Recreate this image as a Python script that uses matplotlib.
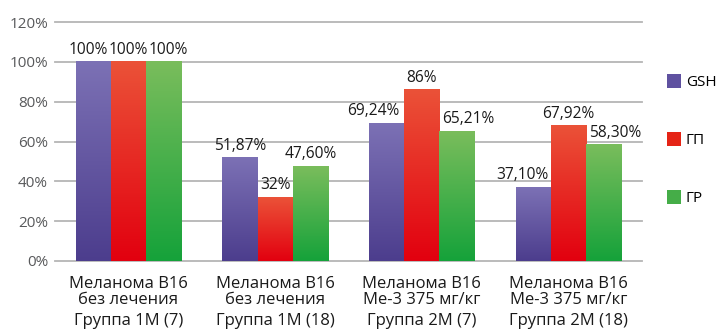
import numpy as np
import matplotlib
matplotlib.use("Agg")
import matplotlib.pyplot as plt
from matplotlib.colors import LinearSegmentedColormap
from matplotlib.patches import Patch

plt.rcParams['font.family'] = ['Open Sans', 'DejaVu Sans']

# ---- data ----
cat_line1 = ["Меланома В16", "Меланома В16", "Меланома В16", "Меланома В16"]
cat_line2 = ["без лечения", "без лечения", "Ме-3 375 мг/кг", "Ме-3 375 мг/кг"]
cat_line3 = ["Группа 1М (7)", "Группа 1М (18)", "Группа 2М (7)", "Группа 2М (18)"]
series_names = ["GSH", "ГП", "ГР"]
gsh = [100, 51.87, 69.24, 37.10]
gp = [100, 32, 86, 67.92]
gr = [100, 47.60, 65.21, 58.30]
gsh_labels = ["100%", "51,87%", "69,24%", "37,10%"]
gp_labels = ["100%", "32%", "86%", "67,92%"]
gr_labels = ["100%", "47,60%", "65,21%", "58,30%"]
yticks = [0, 20, 40, 60, 80, 100, 120]
ytick_labels = ["0%", "20%", "40%", "60%", "80%", "100%", "120%"]

# ---- style ----
grad_colors = [("#7c71b5", "#4c3d8d"), ("#eb5238", "#e2000f"), ("#7abd5c", "#15a23a")]
legend_colors = ["#5f51a0", "#e52416", "#45ad48"]
label_dx = [[-5, 0, -13, -11], [0, 0, 0, 0], [5, 0, 11, 11]]  # pixels

fig = plt.figure(figsize=(7.18, 3.34), dpi=100)
ax = fig.add_axes([55/718, 1-261/334, 587/718, 239/334])

x = np.arange(len(cat_line1))
w = 0.24
series = [gsh, gp, gr]
labels = [gsh_labels, gp_labels, gr_labels]
grad = np.linspace(1, 0, 256).reshape(-1, 1)

for si, (vals, labs) in enumerate(zip(series, labels)):
    bars = ax.bar(x + (si - 1) * w, vals, w, color=legend_colors[si],
                  zorder=2, linewidth=0)
    cmap = LinearSegmentedColormap.from_list("g%d" % si,
                                             [grad_colors[si][1], grad_colors[si][0]])
    for bi, b in enumerate(bars):
        bx, bw, bh = b.get_x(), b.get_width(), b.get_height()
        ax.imshow(grad, cmap=cmap, extent=[bx, bx + bw, 0, bh], aspect='auto',
                  zorder=3, interpolation='bilinear', vmin=0, vmax=1)
        ax.annotate(labs[bi], xy=(bx + bw / 2, bh), xytext=(label_dx[si][bi], 4),
                    textcoords='offset pixels', ha='center', va='bottom',
                    fontsize=11.2, color='#1a1a1a', zorder=5)

ax.set_xlim(-0.5, len(cat_line1) - 0.5)
ax.set_ylim(0, 120)
ax.set_yticks(yticks)
ax.set_yticklabels(ytick_labels)
ax.set_xticks([])
ax.tick_params(axis='y', length=0, pad=5, labelsize=11, labelcolor='#58595b')
for s in ax.spines.values():
    s.set_visible(False)
for yt in yticks:
    ax.axhline(yt, color='#b5b5b5', linewidth=1.3, zorder=1, clip_on=False)

for i in range(len(cat_line1)):
    for txt, off in zip([cat_line1[i], cat_line2[i], cat_line3[i]], [27, 43, 64]):
        ax.annotate(txt, xy=(x[i], 0), xycoords=('data', 'axes fraction'),
                    xytext=(0, -off), textcoords='offset pixels',
                    ha='center', va='baseline', fontsize=12, color='#1a1a1a',
                    annotation_clip=False)

handles = [Patch(facecolor=c, linewidth=0) for c in legend_colors]
fig.legend(handles, series_names, loc='center left',
           bbox_to_anchor=(667/718, 1-140/334), frameon=False,
           fontsize=11, handlelength=0.92, handleheight=1.0,
           handletextpad=0.3, labelspacing=2.75, borderpad=0, borderaxespad=0)

fig.savefig("out.png", dpi=100)
